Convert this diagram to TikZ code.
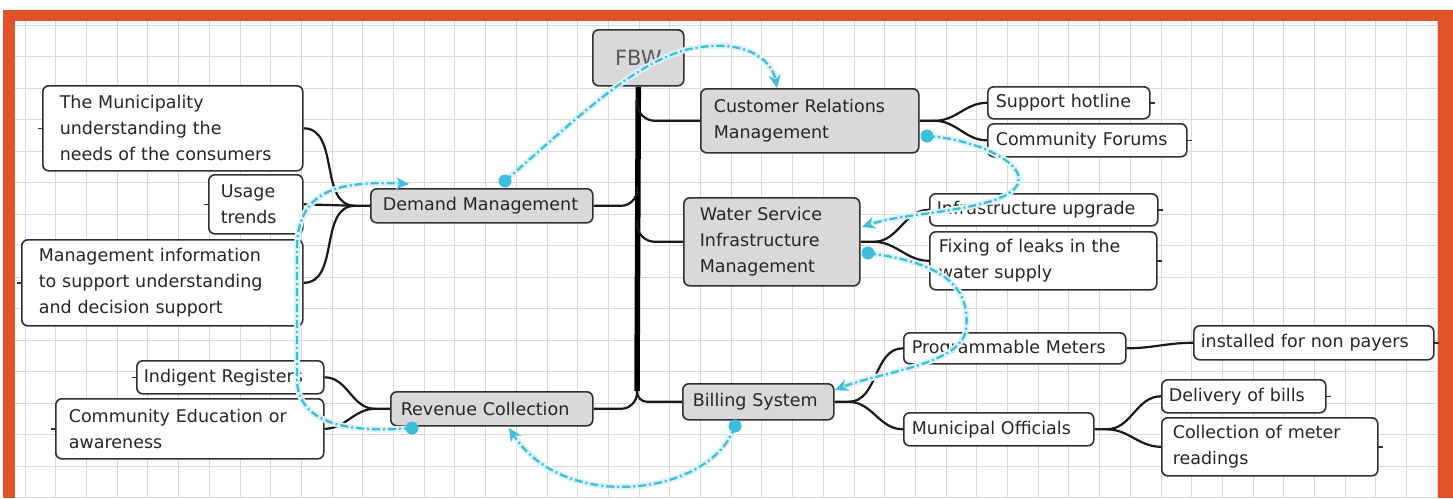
\documentclass[tikz,border=0pt]{standalone}
\usepackage{fontspec}
\setmainfont{DejaVu Sans}
\usetikzlibrary{arrows.meta}
\definecolor{frameorange}{HTML}{E0522A}
\definecolor{gridline}{HTML}{DADADA}
\definecolor{topicfill}{HTML}{D9D9D9}
\definecolor{boxline}{HTML}{303030}
\definecolor{textdark}{HTML}{262626}
\definecolor{relcyan}{HTML}{3DBEDD}
\pgfdeclarelayer{paper}
\pgfdeclarelayer{links}
\pgfsetlayers{paper,links,main}

\begin{document}
\begin{tikzpicture}[x=1pt,y=-1pt,
  font=\fontsize{17.5}{26}\selectfont,
  topic/.style={draw=boxline, line width=1.6, rounded corners=6, fill=topicfill,
    text=textdark, align=left, inner ysep=0, anchor=north west},
  leaf/.style={topic, fill=white},
  branch/.style={draw=black!90, line width=2.2},
  trunk/.style={draw=black, line width=5.5},
  stub/.style={draw=boxline, line width=1.4},
  rel/.style={draw=relcyan, line width=2.3, dash pattern=on 8pt off 3pt on 2pt off 3pt,
    preaction={draw=relcyan!18, line width=6, solid}},
  reltip/.style={-{Stealth[length=13,width=12]}},
]
\useasboundingbox (0,0) rectangle (1453,498);

% frame and squared paper
\begin{pgfonlayer}{paper}
\fill[frameorange] (3,10) rectangle (1453,498);
\fill[white] (15,21) rectangle (1438,498);
\foreach \i in {0,...,46} \draw[gridline, line width=0.8] (25+30.7*\i,21) -- (25+30.7*\i,498);
\foreach \j in {0,...,15} \draw[gridline, line width=0.8] (15,25+31.5*\j) -- (1438,25+31.5*\j);
\end{pgfonlayer}

% central topic and main topics
\node[topic, text width=81, inner xsep=5, minimum height=56, align=center,
  font=\fontsize{21}{24}\selectfont, text=black!65] (fbw) at (592,29) {FBW};
\node[topic, text width=192, inner xsep=13, minimum height=64] (crm) at (700,88)
  {Customer Relations\\Management};
\node[topic, text width=144, inner xsep=16, minimum height=88] (wsim) at (683,197)
  {Water Service\\Infrastructure\\Management};
\node[topic, text width=198, inner xsep=12, minimum height=34] (dem) at (370,188)
  {Demand Management};
\node[topic, text width=182, inner xsep=10, minimum height=34] (rev) at (390,391)
  {Revenue Collection};
\node[topic, text width=131, inner xsep=10, minimum height=36] (bill) at (682,383)
  {Billing System};

% subtopics
\node[leaf, text width=146, inner xsep=8, minimum height=32] (sup) at (987,86) {Support hotline};
\node[leaf, text width=183, inner xsep=8, minimum height=33] (forum) at (987,123) {Community Forums};
\node[leaf, text width=214, inner xsep=7, minimum height=32] (infra) at (929,193) {Infrastructure upgrade};
\node[leaf, text width=209, inner xsep=9, minimum height=58] (leaks) at (929,231)
  {Fixing of leaks in the\\water supply};
\node[leaf, text width=206, inner xsep=8, minimum height=31] (prog) at (903,332) {Programmable Meters};
\node[leaf, text width=226, inner xsep=7, minimum height=34] (nonpay) at (1193,325) {installed for non payers};
\node[leaf, text width=174, inner xsep=8, minimum height=33] (offic) at (903,412) {Municipal Officials};
\node[leaf, text width=150, inner xsep=7, minimum height=33] (deliv) at (1161,379) {Delivery of bills};
\node[leaf, text width=194, inner xsep=11, minimum height=58] (collect) at (1161,417)
  {Collection of meter\\readings};
\node[leaf, text width=226, inner xsep=17, minimum height=85] (muni) at (42,85)
  {The Municipality\\understanding the\\needs of the consumers};
\node[leaf, text width=70, inner xsep=12, minimum height=59] (usage) at (208,174) {Usage\\trends};
\node[leaf, text width=247, inner xsep=17, minimum height=86] (mgmt) at (21,239)
  {Management information\\to support understanding\\and decision support};
\node[leaf, text width=173, inner xsep=7, minimum height=33] (indig) at (136,360) {Indigent Registers};
\node[leaf, text width=242, inner xsep=13, minimum height=60] (comed) at (55,398)
  {Community Education or\\awareness};

% tree connectors, kept behind the boxes
\begin{pgfonlayer}{links}
\coordinate (t1) at (637,98);
\coordinate (t2) at (637,186);
\coordinate (t3) at (637,220);
\coordinate (tend) at (637,391);
\draw[trunk] (fbw.south) -- (tend);
\draw[branch, rounded corners=18] (t1) |- (crm.west);
\draw[branch, rounded corners=16] (t2) |- (dem.east);
\draw[branch, rounded corners=18] (t3) |- (wsim.west);
\draw[branch, rounded corners=16] (tend) |- (rev.east);
\draw[branch, rounded corners=10] (tend) |- (bill.west);

\coordinate (crmhub) at ([xshift=15]crm.east);
\draw[branch] (crm.east) -- (crmhub) to[out=0,in=180] (sup.west);
\draw[branch] (crmhub) to[out=0,in=180] (forum.west);

\coordinate (wsimhub) at ([xshift=13]wsim.east);
\draw[branch] (wsim.east) -- (wsimhub) to[out=0,in=180] (infra.west);
\draw[branch] (wsimhub) to[out=0,in=180] (leaks.west);

\coordinate (billhub) at ([xshift=14]bill.east);
\draw[branch] (bill.east) -- (billhub) to[out=0,in=180] (prog.west);
\draw[branch] (billhub) to[out=0,in=180] (offic.west);

\draw[branch] (prog.east) to[out=0,in=180] (nonpay.west);

\coordinate (offhub) at ([xshift=12]offic.east);
\draw[branch] (offic.east) -- (offhub) to[out=0,in=180] (deliv.west);
\draw[branch] (offhub) to[out=0,in=180] (collect.west);

\coordinate (demhub) at ([xshift=-15]dem.west);
\draw[branch] (dem.west) -- (demhub) to[out=180,in=0] (muni.east);
\draw[branch] (demhub) -- (usage.east);
\draw[branch] (demhub) to[out=180,in=0] (mgmt.east);

\coordinate (revhub) at ([xshift=-15]rev.west);
\draw[branch] (rev.west) -- (revhub) to[out=180,in=0] (indig.east);
\draw[branch] (revhub) to[out=180,in=0] (comed.east);

% collapse stubs on the outer edges of the subtopics
\foreach \n in {sup,forum,infra,leaks,nonpay,deliv,collect}
  \draw[stub] ([xshift=-1]\n.east) -- ++(5,0);
\foreach \n in {muni,usage,mgmt,indig,comed}
  \draw[stub] ([xshift=1]\n.west) -- ++(-5,0);
\end{pgfonlayer}

% relationship links, drawn over everything
\coordinate (r1a) at (505,181);
\coordinate (r1b) at (777,88);
\draw[rel, reltip] (r1a) .. controls (575,120) and (630,66) .. (685,50)
  .. controls (745,36) and (772,60) .. (r1b);
\fill[relcyan] (r1a) circle (6.5);

\coordinate (r2a) at (412,428);
\coordinate (r2b) at (409,184);
\draw[rel, reltip] (r2a) .. controls (340,434) and (298,420) .. (297,380) -- (297,250)
  .. controls (297,195) and (330,180) .. (r2b);
\fill[relcyan] (r2a) circle (6.5);

\coordinate (r3a) at (735,426);
\coordinate (r3b) at (509,428);
\draw[rel, reltip] (r3a) .. controls (712,495) and (565,515) .. (r3b);
\fill[relcyan] (r3a) circle (6.5);

\coordinate (r4a) at (927,136);
\coordinate (r4b) at (862,227);
\draw[rel, reltip] (r4a) .. controls (990,140) and (1055,178) .. (995,200)
  .. controls (950,214) and (900,214) .. (r4b);
\fill[relcyan] (r4a) circle (6.5);

\coordinate (r5a) at (868,253);
\coordinate (r5b) at (835,390);
\draw[rel, reltip] (r5a) .. controls (935,262) and (972,282) .. (966,330)
  .. controls (960,365) and (880,372) .. (r5b);
\fill[relcyan] (r5a) circle (6.5);
\end{tikzpicture}
\end{document}
